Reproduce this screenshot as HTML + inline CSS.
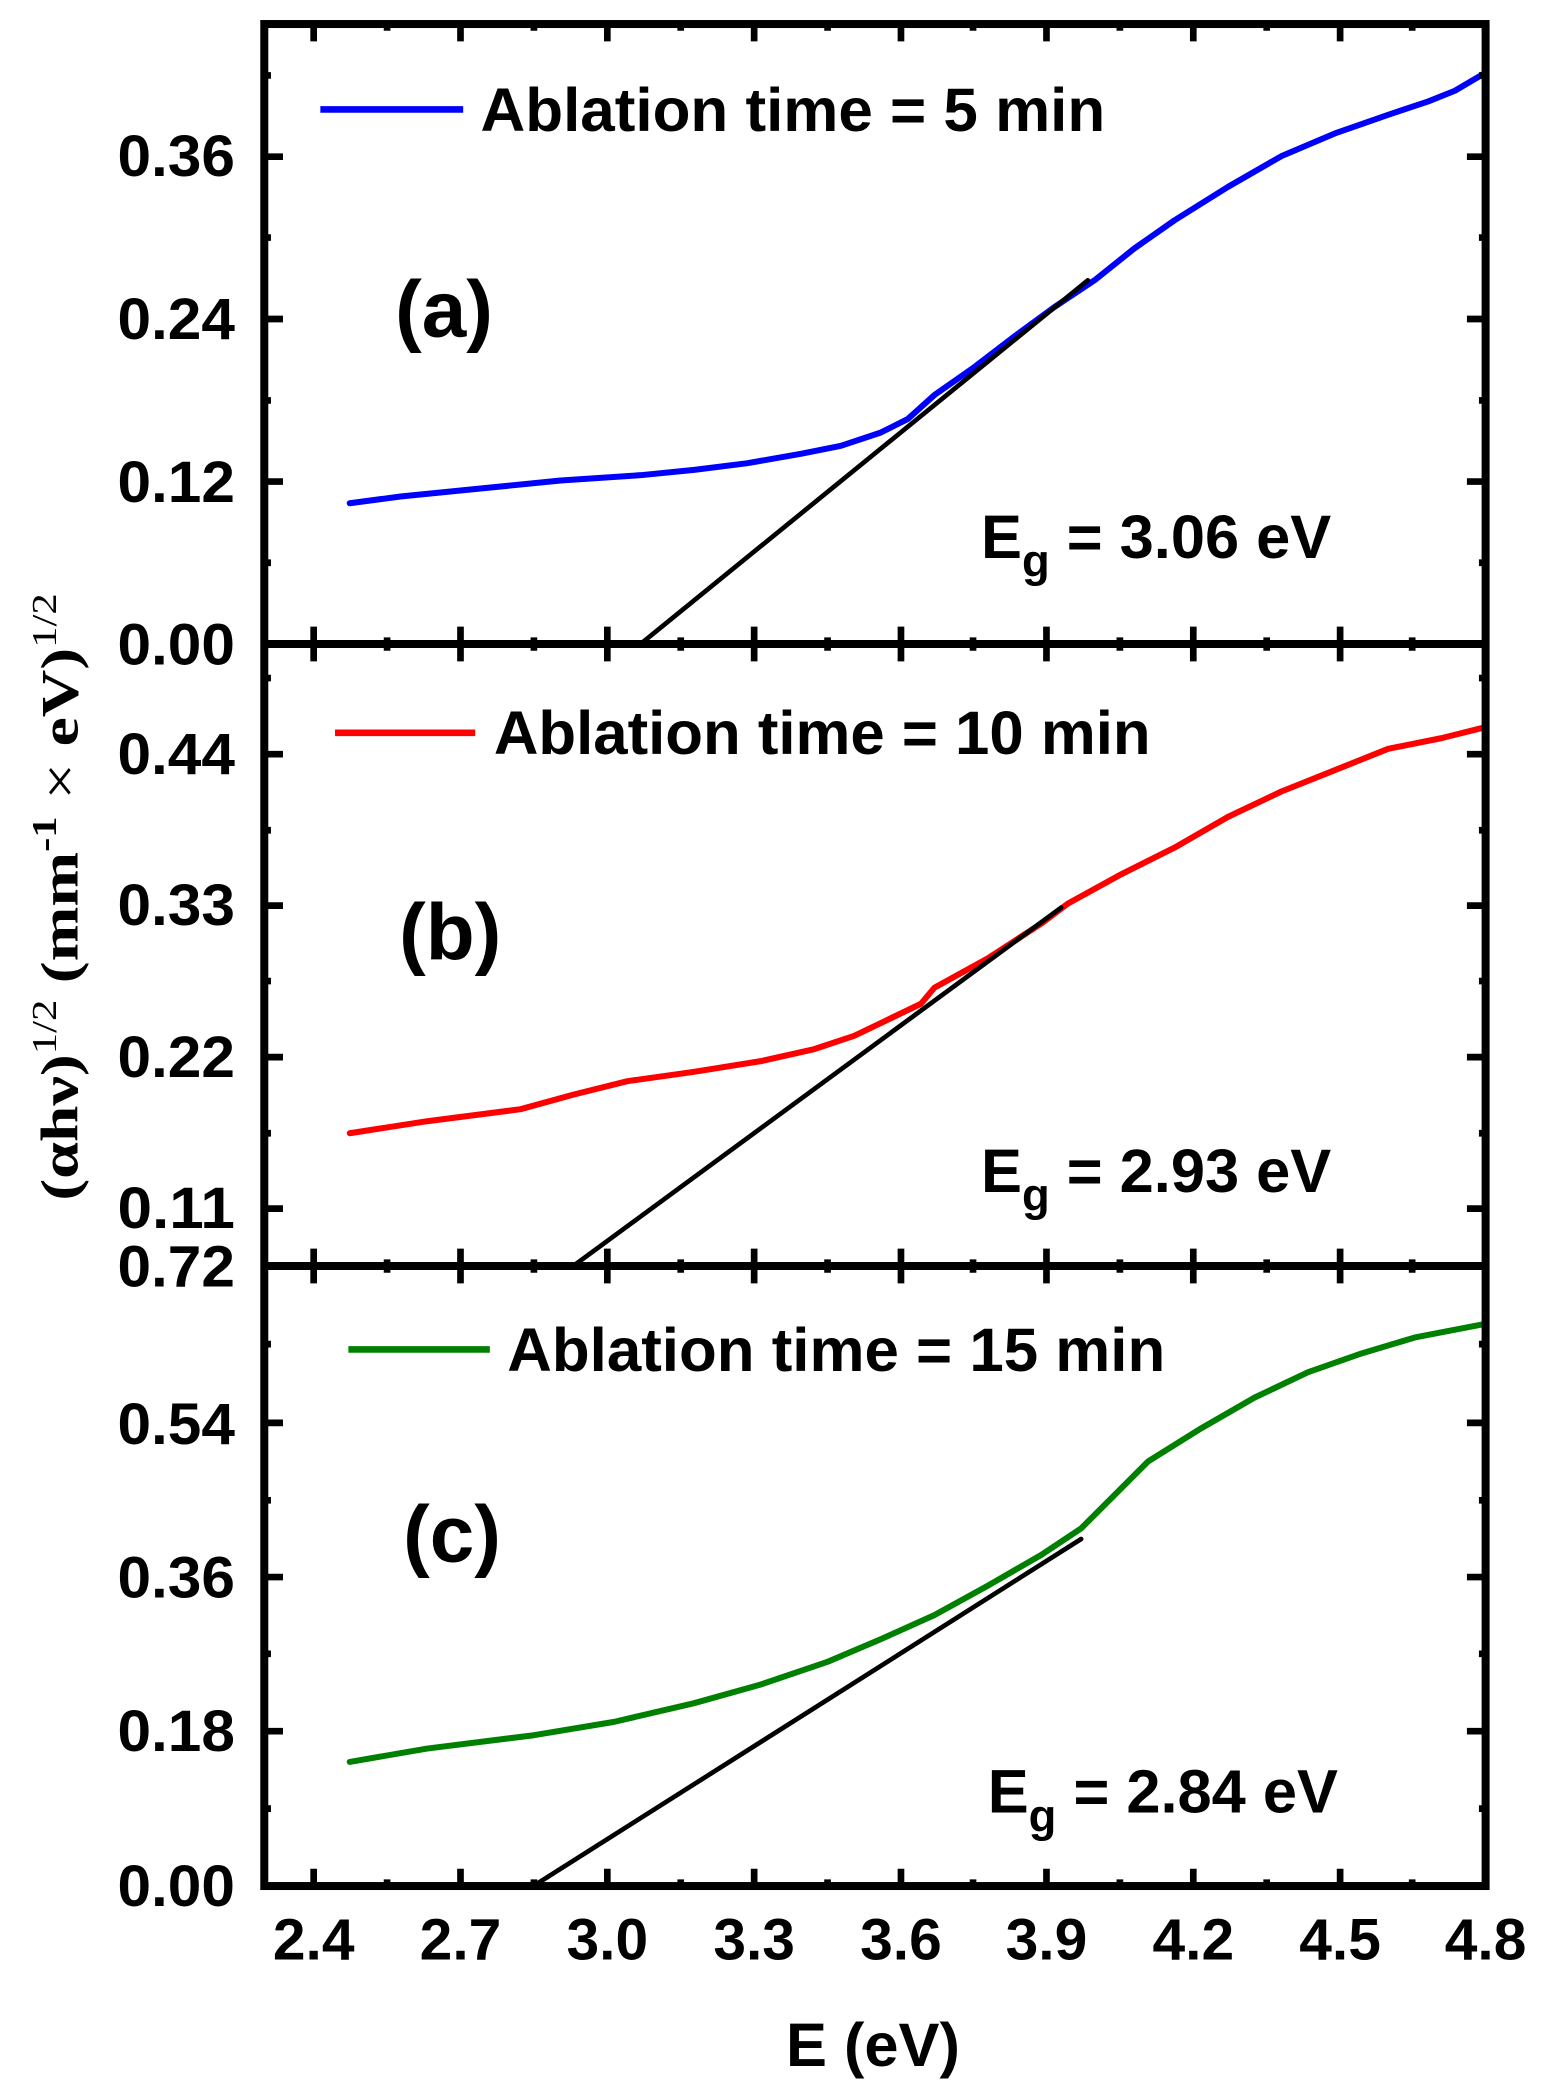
<!DOCTYPE html>
<html><head><meta charset="utf-8"><style>html,body{margin:0;padding:0;background:#fff}svg{display:block}</style></head>
<body>
<svg width="1543" height="2094" viewBox="0 0 1156 1568.8" preserveAspectRatio="none" xmlns="http://www.w3.org/2000/svg">
<defs>
<clipPath id="ca"><rect x="198" y="18" width="915" height="464.5"/></clipPath>
<clipPath id="cb"><rect x="198" y="482.5" width="915" height="466"/></clipPath>
<clipPath id="cc"><rect x="198" y="948.5" width="915" height="464.5"/></clipPath>
</defs>
<g font-family="Liberation Sans, Arial, sans-serif" font-weight="bold" fill="#000">
<g fill="none" stroke-linejoin="round" stroke-linecap="round">
<polyline clip-path="url(#ca)" stroke="#0000ff" stroke-width="4.5" points="262,377 300,372 360,366 420,360 480,356 520,352 560,347 600,340 630,334 660,324 680,314 700,296 730,275 760,252 790,230 820,210 850,186 880,165 920,140 960,117 1000,100 1040,86 1070,76 1090,68 1112,55"/>
<line clip-path="url(#ca)" x1="478" y1="484" x2="815" y2="210" stroke="#000" stroke-width="3.5"/>
<polyline clip-path="url(#cb)" stroke="#ff0000" stroke-width="4.5" points="262,849 320,840 390,831 430,820 470,810 520,803 570,795 610,786 640,776 665,764 690,752 700,740 740,718 780,692 800,677 840,655 880,635 920,612 960,593 1000,577 1040,561 1080,553 1112,545"/>
<line clip-path="url(#cb)" x1="426" y1="951" x2="795" y2="680" stroke="#000" stroke-width="3.5"/>
<polyline clip-path="url(#cc)" stroke="#008000" stroke-width="4.5" points="262,1320 320,1310 400,1300 460,1290 520,1276 570,1262 620,1245 660,1228 700,1210 740,1188 780,1165 810,1145 835,1120 860,1095 900,1070 940,1047 980,1028 1020,1014 1060,1002 1112,992"/>
<line clip-path="url(#cc)" x1="398" y1="1414" x2="810" y2="1153" stroke="#000" stroke-width="3.5"/>
</g>
<g fill="none" stroke="#000" stroke-width="6">
<rect x="198" y="18" width="915" height="1395"/>
<line x1="198" y1="482.5" x2="1113" y2="482.5"/>
<line x1="198" y1="948.5" x2="1113" y2="948.5"/>
</g>
<g font-size="44" text-anchor="end">
<text x="176" y="132" textLength="88" lengthAdjust="spacingAndGlyphs">0.36</text><text x="176" y="254" textLength="88" lengthAdjust="spacingAndGlyphs">0.24</text><text x="176" y="376" textLength="88" lengthAdjust="spacingAndGlyphs">0.12</text><text x="176" y="498" textLength="88" lengthAdjust="spacingAndGlyphs">0.00</text>
<text x="176" y="580" textLength="88" lengthAdjust="spacingAndGlyphs">0.44</text><text x="176" y="693" textLength="88" lengthAdjust="spacingAndGlyphs">0.33</text><text x="176" y="807" textLength="88" lengthAdjust="spacingAndGlyphs">0.22</text><text x="176" y="920" textLength="88" lengthAdjust="spacingAndGlyphs">0.11</text>
<text x="176" y="964" textLength="88" lengthAdjust="spacingAndGlyphs">0.72</text><text x="176" y="1082" textLength="88" lengthAdjust="spacingAndGlyphs">0.54</text><text x="176" y="1197" textLength="88" lengthAdjust="spacingAndGlyphs">0.36</text><text x="176" y="1312" textLength="88" lengthAdjust="spacingAndGlyphs">0.18</text><text x="176" y="1428" textLength="88" lengthAdjust="spacingAndGlyphs">0.00</text>
</g>
<g font-size="44" text-anchor="middle">
<text x="235" y="1468">2.4</text><text x="345" y="1468">2.7</text><text x="455" y="1468">3.0</text><text x="565" y="1468">3.3</text><text x="675" y="1468">3.6</text><text x="784" y="1468">3.9</text><text x="894" y="1468">4.2</text><text x="1004" y="1468">4.5</text><text x="1113" y="1468">4.8</text>
</g>
<text x="654" y="1548" font-size="46" text-anchor="middle">E (eV)</text>
<line x1="240" y1="82" x2="347" y2="82" stroke="#0000ff" stroke-width="5"/>
<text x="360" y="98" font-size="46" textLength="468" lengthAdjust="spacingAndGlyphs">Ablation time = 5 min</text>
<line x1="251" y1="549" x2="356" y2="549" stroke="#ff0000" stroke-width="5"/>
<text x="370" y="565" font-size="46" textLength="492" lengthAdjust="spacingAndGlyphs">Ablation time = 10 min</text>
<line x1="261" y1="1011" x2="367" y2="1011" stroke="#008000" stroke-width="5"/>
<text x="380" y="1027" font-size="46" textLength="493" lengthAdjust="spacingAndGlyphs">Ablation time = 15 min</text>
<text x="296" y="252" font-size="60">(a)</text>
<text x="299" y="719" font-size="60">(b)</text>
<text x="302" y="1170" font-size="60">(c)</text>
<text x="735" y="418" font-size="46">E<tspan font-size="34" dy="14">g</tspan><tspan dy="-14"> = 3.06 eV</tspan></text>
<text x="735" y="893" font-size="46">E<tspan font-size="34" dy="14">g</tspan><tspan dy="-14"> = 2.93 eV</tspan></text>
<text x="740" y="1358" font-size="46">E<tspan font-size="34" dy="14">g</tspan><tspan dy="-14"> = 2.84 eV</tspan></text>
<text transform="translate(58,672) rotate(-90)" font-family="Liberation Serif, serif" font-size="40" text-anchor="middle" textLength="455" lengthAdjust="spacingAndGlyphs">(αhν)<tspan font-size="26" dy="-16" font-weight="normal">1/2</tspan><tspan dy="16"> (mm</tspan><tspan font-size="26" dy="-16">-1</tspan><tspan dy="16" font-weight="normal"> × </tspan><tspan dy="0">eV)</tspan><tspan font-size="26" dy="-16" font-weight="normal">1/2</tspan></text>
</g>
<g stroke="#000" stroke-width="5">
<path d="
M235,18v13 M345,18v13 M455,18v13 M565,18v13 M675,18v13 M784,18v13 M894,18v13 M1004,18v13
M290,18v5 M400,18v5 M510,18v5 M620,18v5 M729,18v5 M839,18v5 M949,18v5 M1058,18v5
M235,482.5v-13 M345,482.5v-13 M455,482.5v-13 M565,482.5v-13 M675,482.5v-13 M784,482.5v-13 M894,482.5v-13 M1004,482.5v-13
M290,482.5v-5 M400,482.5v-5 M510,482.5v-5 M620,482.5v-5 M729,482.5v-5 M839,482.5v-5 M949,482.5v-5 M1058,482.5v-5
M235,482.5v13 M345,482.5v13 M455,482.5v13 M565,482.5v13 M675,482.5v13 M784,482.5v13 M894,482.5v13 M1004,482.5v13
M290,482.5v5 M400,482.5v5 M510,482.5v5 M620,482.5v5 M729,482.5v5 M839,482.5v5 M949,482.5v5 M1058,482.5v5
M235,948.5v-13 M345,948.5v-13 M455,948.5v-13 M565,948.5v-13 M675,948.5v-13 M784,948.5v-13 M894,948.5v-13 M1004,948.5v-13
M290,948.5v-5 M400,948.5v-5 M510,948.5v-5 M620,948.5v-5 M729,948.5v-5 M839,948.5v-5 M949,948.5v-5 M1058,948.5v-5
M235,948.5v13 M345,948.5v13 M455,948.5v13 M565,948.5v13 M675,948.5v13 M784,948.5v13 M894,948.5v13 M1004,948.5v13
M290,948.5v5 M400,948.5v5 M510,948.5v5 M620,948.5v5 M729,948.5v5 M839,948.5v5 M949,948.5v5 M1058,948.5v5
M235,1413v-13 M345,1413v-13 M455,1413v-13 M565,1413v-13 M675,1413v-13 M784,1413v-13 M894,1413v-13 M1004,1413v-13
M290,1413v-5 M400,1413v-5 M510,1413v-5 M620,1413v-5 M729,1413v-5 M839,1413v-5 M949,1413v-5 M1058,1413v-5
M198,117.4h14 M198,239h14 M198,360.8h14 M1113,117.4h-14 M1113,239h-14 M1113,360.8h-14
M198,56.5h5 M198,178h5 M198,300h5 M198,421.6h5 M1113,56.5h-5 M1113,178h-5 M1113,300h-5 M1113,421.6h-5
M198,565h14 M198,678.5h14 M198,792h14 M198,905.5h14 M1113,565h-14 M1113,678.5h-14 M1113,792h-14 M1113,905.5h-14
M198,508h5 M198,622h5 M198,735h5 M198,849h5 M1113,508h-5 M1113,622h-5 M1113,735h-5 M1113,849h-5
M198,1066h14 M198,1181.5h14 M198,1297h14 M1113,1066h-14 M1113,1181.5h-14 M1113,1297h-14
M198,1007h5 M198,1124h5 M198,1239h5 M198,1355h5 M1113,1007h-5 M1113,1124h-5 M1113,1239h-5 M1113,1355h-5
"/>
</g>
</svg>
</body></html>
